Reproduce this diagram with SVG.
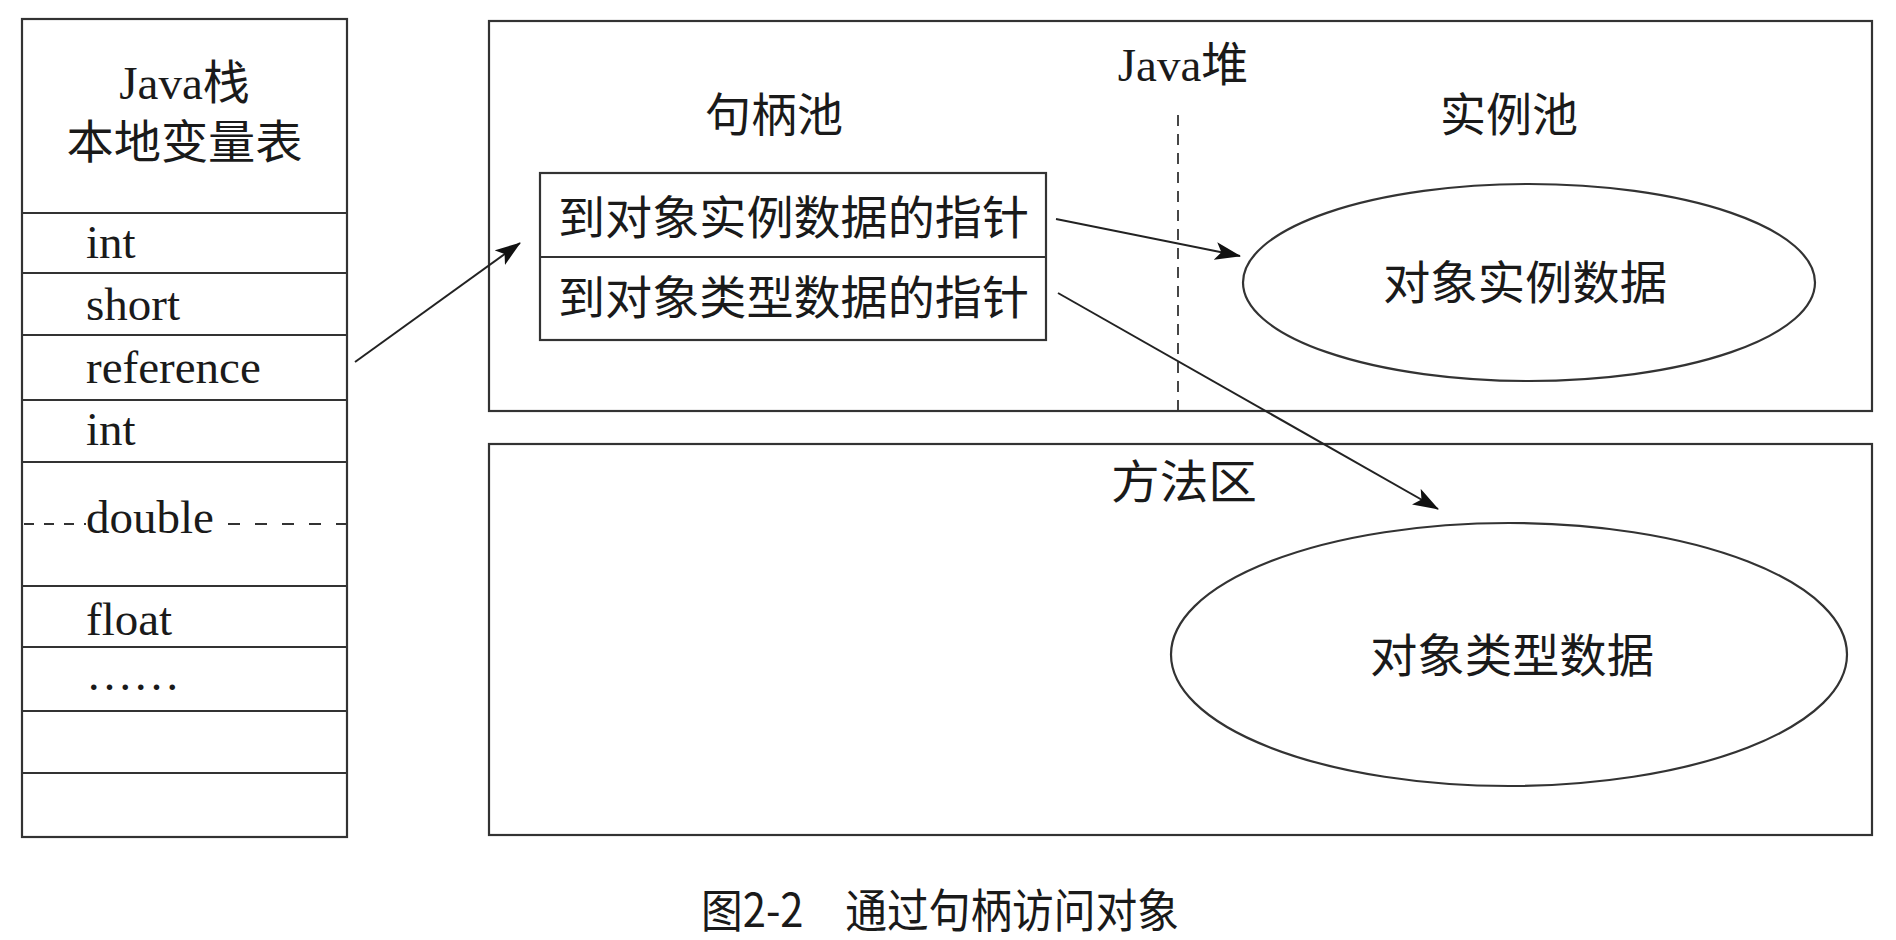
<svg xmlns="http://www.w3.org/2000/svg" width="1896" height="940" viewBox="0 0 1896 940">
<style>
  .box { fill: #fff; stroke: #333; stroke-width: 2.2; }
  .ln { stroke: #333; stroke-width: 2.2; fill: none; }
  .dash { stroke: #333; stroke-width: 1.8; fill: none; }
  .lat { font-family: "Liberation Serif", "Noto Sans CJK SC", serif; font-size: 47px; fill: #1a1a1a; }
  .cjk { font-family: "Noto Sans CJK SC", "Noto Sans", sans-serif; font-size: 46px; fill: #1a1a1a; }
  .conn { stroke: #222; stroke-width: 2; fill: none; marker-end: url(#ah); }
</style>
<defs>
  <marker id="ah" viewBox="0 0 26 18" refX="25" refY="9" markerWidth="26" markerHeight="18" markerUnits="userSpaceOnUse" orient="auto">
    <path d="M0,0 L26,9 L0,18 L6,9 Z" fill="#111"/>
  </marker>
</defs>
<rect width="1896" height="940" fill="#fff"/>

<g id="java-stack">
  <rect class="box" x="22" y="19" width="325" height="818"/>
  <line class="ln" x1="22" y1="213" x2="347" y2="213"/>
  <line class="ln" x1="22" y1="273" x2="347" y2="273"/>
  <line class="ln" x1="22" y1="335" x2="347" y2="335"/>
  <line class="ln" x1="22" y1="400" x2="347" y2="400"/>
  <line class="ln" x1="22" y1="462" x2="347" y2="462"/>
  <line class="ln" x1="22" y1="586" x2="347" y2="586"/>
  <line class="ln" x1="22" y1="647" x2="347" y2="647"/>
  <line class="ln" x1="22" y1="711" x2="347" y2="711"/>
  <line class="ln" x1="22" y1="773" x2="347" y2="773"/>
  <line class="dash" x1="24" y1="524" x2="86" y2="524" stroke-dasharray="10 10"/>
  <line class="dash" x1="228" y1="524" x2="347" y2="524" stroke-dasharray="12 15"/>
  <text class="lat" x="184.5" y="99" text-anchor="middle">Java栈</text>
  <text class="cjk" x="184.5" y="158" text-anchor="middle" textLength="236" lengthAdjust="spacingAndGlyphs">本地变量表</text>
  <text class="lat" x="86" y="258">int</text>
  <text class="lat" x="86" y="320">short</text>
  <text class="lat" x="86" y="383">reference</text>
  <text class="lat" x="86" y="445">int</text>
  <text class="lat" x="86" y="533">double</text>
  <text class="lat" x="86" y="635">float</text>
  <text class="lat" x="86" y="690" font-size="42">……</text>
</g>

<g id="java-heap">
  <rect class="box" x="489" y="21" width="1383" height="390"/>
  <line class="dash" x1="1178" y1="115" x2="1178" y2="411" stroke-dasharray="11 8"/>
  <text class="lat" x="1183" y="81" text-anchor="middle">Java堆</text>
  <text class="cjk" x="774" y="131" text-anchor="middle">句柄池</text>
  <text class="cjk" x="1509" y="131" text-anchor="middle">实例池</text>
</g>

<g id="handle">
  <rect class="box" x="540" y="173" width="506" height="167"/>
  <line class="ln" x1="540" y1="257" x2="1046" y2="257"/>
  <text class="cjk" x="558" y="234" textLength="471" lengthAdjust="spacingAndGlyphs">到对象实例数据的指针</text>
  <text class="cjk" x="558" y="314" textLength="471" lengthAdjust="spacingAndGlyphs">到对象类型数据的指针</text>
</g>

<g id="instance-data">
  <ellipse class="box" cx="1529" cy="282.5" rx="286" ry="98.5"/>
  <text class="cjk" x="1525" y="299" text-anchor="middle" textLength="284" lengthAdjust="spacingAndGlyphs">对象实例数据</text>
</g>

<g id="method-area">
  <rect class="box" x="489" y="444" width="1383" height="391"/>
  <text class="cjk" x="1184" y="498" text-anchor="middle" textLength="146" lengthAdjust="spacingAndGlyphs">方法区</text>
</g>

<g id="type-data">
  <ellipse class="box" cx="1509" cy="654.5" rx="338" ry="131.5"/>
  <text class="cjk" x="1512" y="672" text-anchor="middle" textLength="284" lengthAdjust="spacingAndGlyphs">对象类型数据</text>
</g>

<g id="connectors">
  <line class="conn" x1="355" y1="362" x2="520" y2="243"/>
  <line class="conn" x1="1056" y1="219" x2="1240" y2="256"/>
  <line class="conn" x1="1058" y1="293" x2="1438" y2="509"/>
</g>

<text class="cjk" x="701" y="927" font-size="42" textLength="478" lengthAdjust="spacingAndGlyphs">图2-2　通过句柄访问对象</text>
</svg>
